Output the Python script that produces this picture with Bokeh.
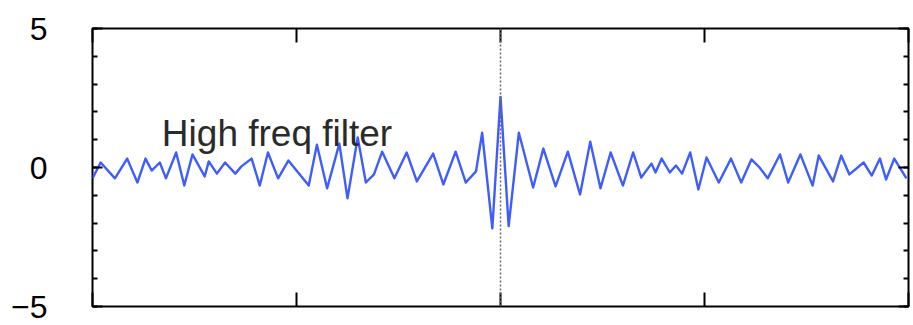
from bokeh.plotting import figure
from bokeh.models import Range1d, LinearAxis, FixedTicker, Span, Label
from bokeh.embed import file_html
from bokeh.resources import INLINE

# Data (extrema of the filtered trace)
time_ms = [-200, -196, -189, -183, -178, -174, -171, -167, -164, -159, -155, -151,
           -145, -143, -139, -135, -130, -127, -122, -118, -114, -109, -104, -100,
           -94, -90, -85, -79, -75, -70, -66, -62, -58, -52, -46, -41, -33, -28,
           -22, -17, -12, -9, -4, 0, 4, 9, 16, 21, 27, 33, 39, 44, 49, 54, 60,
           65, 69, 74, 76, 79, 83, 86, 89, 93, 97, 101, 107, 113, 118, 123, 127,
           131, 137, 141, 147, 153, 156, 163, 167, 171, 178, 182, 186, 189, 193, 199]
amplitude = [-0.39, 0.18, -0.39, 0.32, -0.54, 0.32, -0.11, 0.18, -0.39, 0.54, -0.65, 0.47,
             -0.32, 0.22, -0.22, 0.18, -0.22, 0.04, 0.32, -0.65, 0.54, -0.39, 0.25, -0.11,
             -0.65, 0.82, -0.75, 0.86, -1.11, 1.08, -0.54, -0.25, 0.57, -0.39, 0.54, -0.50, 0.50, -0.61,
             0.57, -0.54, -0.14, 1.25, -2.19, 2.54, -2.11, 1.25, -0.72, 0.68, -0.68, 0.57, -0.97, 0.93, -0.75, 0.54, -0.65,
             0.54, -0.36, 0.14, -0.18, 0.32, -0.18, 0.07, -0.22, 0.54, -0.79, 0.36, -0.54, 0.32, -0.54, 0.29, 0.0,
             -0.39, 0.47, -0.54, 0.47, -0.65, 0.43, -0.50, 0.43, -0.25, 0.18, -0.29, 0.32, -0.43, 0.32, -0.39]

x_ticks = [-200, -100, 0, 100, 200]
y_ticks = [-5, 0, 5]
y_minor = [-5, -4, -3, -2, -1, 0, 1, 2, 3, 4, 5]
label_text = "High freq filter"

p = figure(width=911, height=324, output_backend="svg", toolbar_location=None,
           x_range=Range1d(-200, 200), y_range=Range1d(-5, 5),
           min_border_left=92, min_border_right=3, min_border_top=28, min_border_bottom=18,
           x_axis_type=None, y_axis_type=None)
p.grid.visible = False
p.background_fill_color = "white"
p.border_fill_color = "white"
p.outline_line_color = "black"
p.outline_line_width = 2

FONT = "Liberation Sans"

def style_axis(ax, ticks, minor, labels):
    ax.ticker = FixedTicker(ticks=ticks, minor_ticks=minor)
    ax.axis_line_color = None
    ax.major_tick_in = 10
    ax.major_tick_out = 0
    ax.minor_tick_in = 5
    ax.minor_tick_out = 0
    ax.major_tick_line_width = 2
    ax.minor_tick_line_width = 2
    ax.major_tick_line_color = "black"
    ax.minor_tick_line_color = "black"
    if labels:
        ax.major_label_text_font = FONT
        ax.major_label_text_font_size = "32px"
        ax.major_label_text_color = "black"
        ax.major_label_standoff = 45
    else:
        ax.major_label_text_font_size = "0px"
        ax.major_label_text_color = None
        ax.major_label_standoff = 0

left = LinearAxis()
style_axis(left, y_ticks, y_minor, True)
p.add_layout(left, "left")

right = LinearAxis()
style_axis(right, y_ticks, y_minor, False)
p.add_layout(right, "right")

bottom = LinearAxis()
style_axis(bottom, x_ticks, [], False)
bottom.major_tick_in = 14
p.add_layout(bottom, "below")

top = LinearAxis()
style_axis(top, x_ticks, [], False)
top.major_tick_in = 14
p.add_layout(top, "above")

p.add_layout(Span(location=0, dimension="height", line_color="#666666",
                  line_dash="2 2", line_width=1.5))

p.line(time_ms, amplitude, line_color="#3f5cff", line_width=2.4, line_join="round")

p.add_layout(Label(x=-166, y=0.5, text=label_text, text_font=FONT,
                   text_font_size="37px", text_color="#2a2a2a"))

open("out.html", "w").write(file_html(p, INLINE))
